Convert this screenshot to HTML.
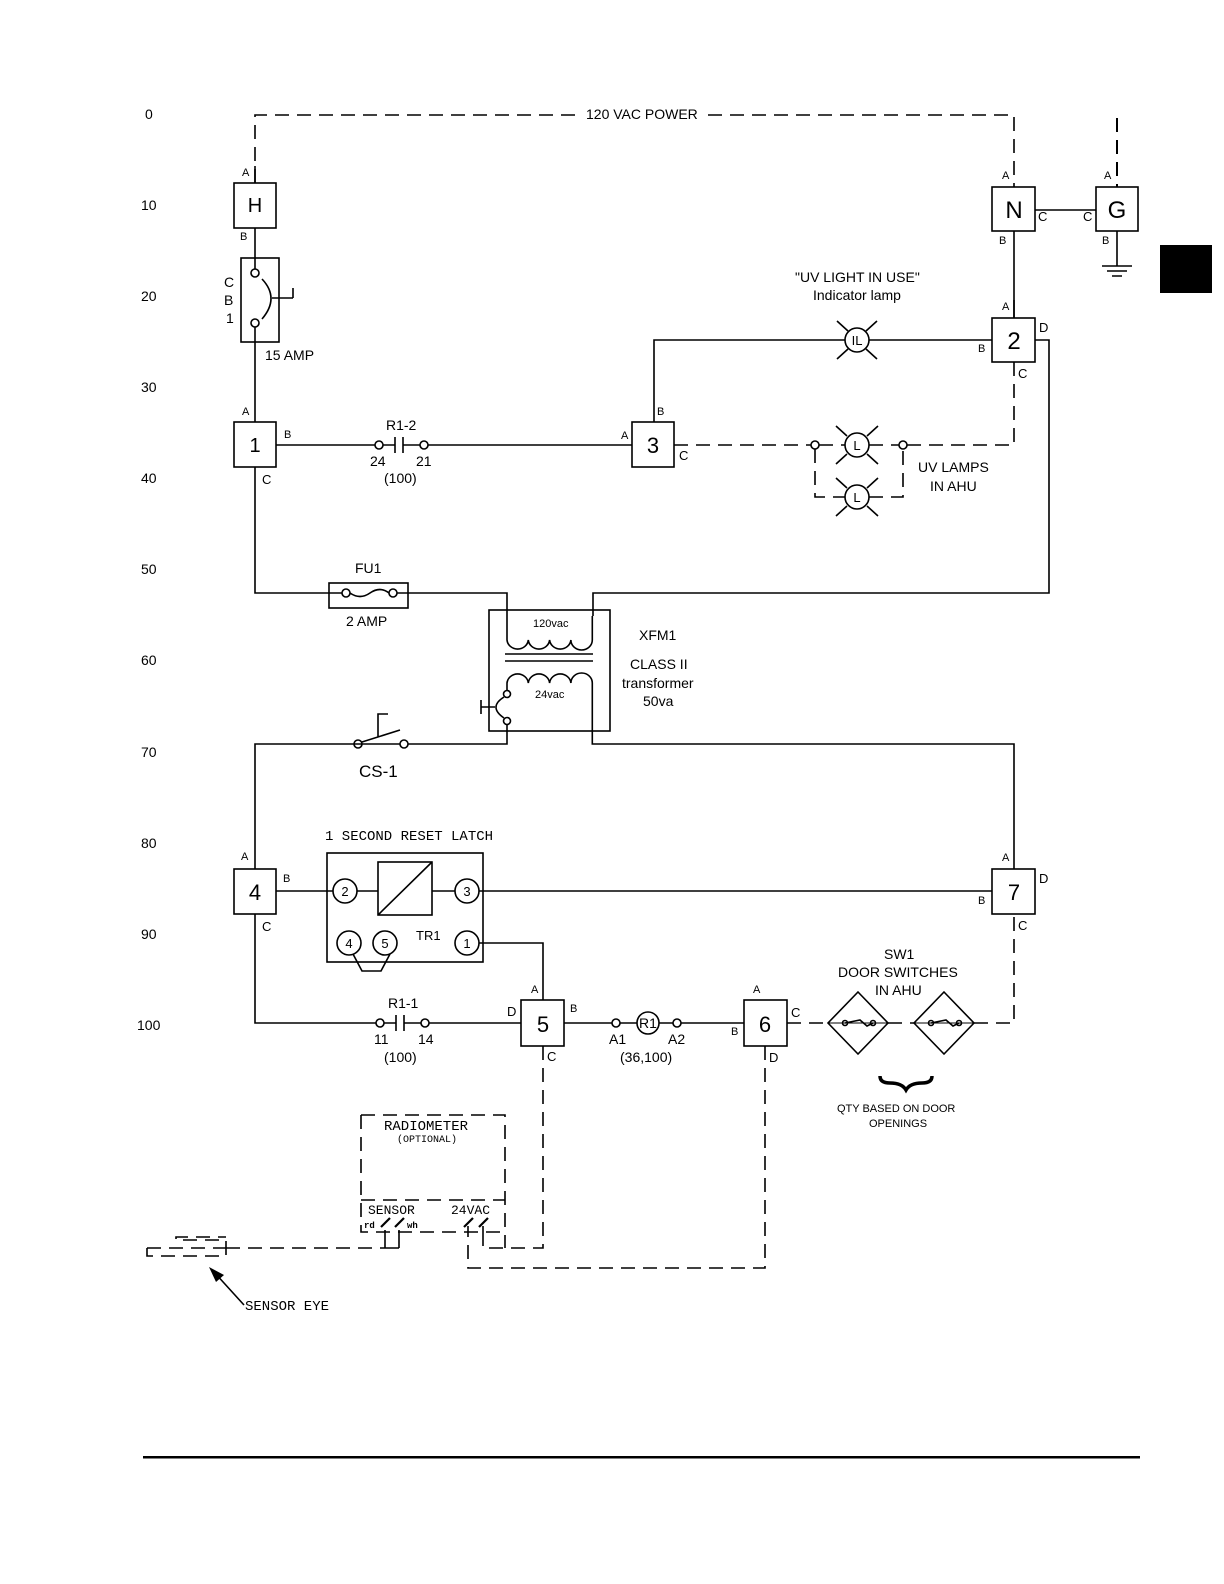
<!DOCTYPE html>
<html><head><meta charset="utf-8"><style>
html,body{margin:0;padding:0;background:#fff;overflow:hidden;width:1224px;height:1584px;}
svg{display:block;}
text{font-family:"Liberation Sans",sans-serif;fill:#000;}
.m text{font-family:"Liberation Mono",monospace;}
</style></head><body>
<svg width="1224" height="1584" viewBox="0 0 1224 1584" xmlns="http://www.w3.org/2000/svg">
<g fill="none" stroke="#000" stroke-width="1.6">
<!-- top dashed power -->
<path d="M255 183 V115 H578 M708 115 H1014 V187" stroke-dasharray="14,8"/>
<path d="M1117 118 V187" stroke-dasharray="14,8" stroke-width="2"/>
<!-- H -->
<rect x="234" y="183" width="42" height="45"/>
<path d="M255 166 V183 M255 228 V258"/>
<!-- CB1 -->
<rect x="241" y="258" width="38" height="84"/>
<path d="M255 258 V269 M255 327 V422"/>
<circle cx="255" cy="273" r="4"/><circle cx="255" cy="323" r="4"/>
<path d="M262 279 Q280 298 262 319"/>
<path d="M272 298 H293 M293 288 V298"/>
<!-- box1 -->
<rect x="234" y="422" width="42" height="45"/>
<path d="M276 445 H375 M383 445 H395 M395 437 V453 M403 437 V453 M403 445 H420 M428 445 H632"/>
<circle cx="379" cy="445" r="4"/><circle cx="424" cy="445" r="4"/>
<!-- box3 -->
<rect x="632" y="422" width="42" height="45"/>
<path d="M654 422 V340 H845 M869 340 H992"/>
<!-- IL lamp -->
<circle cx="857" cy="340" r="12"/>
<path d="M837 321 L848 331 M877 321 L866 331 M837 359 L848 349 M877 359 L866 349"/>
<!-- box2 -->
<rect x="992" y="318" width="43" height="44"/>
<path d="M1014 300 V318 M1035 340 H1049 V593 H593 V616"/>
<!-- N, G -->
<rect x="992" y="187" width="43" height="44"/>
<rect x="1096" y="187" width="42" height="44"/>
<path d="M1014 231 V318 M1035 210 H1096 M1117 231 V266 M1102 266 H1132 M1107 271 H1127 M1112 276 H1122"/>
<!-- UV lamps dashed -->
<path d="M674 445 H811 M819 445 H845 M869 445 H899 M907 445 H1014 V362" stroke-dasharray="14,8"/>
<path d="M815 449 V497 H845 M869 497 H903 V449" stroke-dasharray="14,8"/>
<circle cx="815" cy="445" r="4"/><circle cx="903" cy="445" r="4"/>
<circle cx="857" cy="445" r="12"/>
<path d="M847 436 L836 426 M867 436 L878 426 M847 454 L836 464 M867 454 L878 464"/>
<circle cx="857" cy="497" r="12"/>
<path d="M847 488 L836 478 M867 488 L878 478 M847 506 L836 516 M867 506 L878 516"/>
<!-- fuse -->
<path d="M255 467 V593 H342 M397 593 H507 V630"/>
<rect x="329" y="583" width="79" height="25"/>
<circle cx="346" cy="593" r="4"/><circle cx="393" cy="593" r="4"/>
<path d="M350 593 Q360 600 370 593 Q380 586 389 593"/>
<!-- transformer -->
<rect x="489" y="610" width="121" height="121"/>
<path d="M507 630 V640 a10.7 10 0 0 0 21.3 0 a10.7 10 0 0 0 21.3 0 a10.7 10 0 0 0 21.3 0 a10.7 10 0 0 0 21.4 0 V616"/>
<path d="M505 654 H593 M505 661 H593"/>
<path d="M507 690 V683 a10.7 10 0 0 1 21.3 0 a10.7 10 0 0 1 21.3 0 a10.7 10 0 0 1 21.3 0 a10.7 10 0 0 1 21.4 0 V744 H1014 V869"/>
<circle cx="507" cy="694" r="3.5"/><circle cx="507" cy="721" r="3.5"/>
<path d="M504 697 Q488 707 504 718 M495 707 H481 M481 700 V714"/>
<path d="M507 725 V744 H408 M400 744 H255 V869"/>
<!-- CS-1 -->
<circle cx="358" cy="744" r="4"/><circle cx="404" cy="744" r="4"/>
<path d="M362 742 L400 730 M378 737 V714 H388"/>
<!-- box4 -->
<rect x="234" y="869" width="42" height="45"/>
<!-- latch -->
<rect x="327" y="853" width="156" height="109"/>
<rect x="378" y="862" width="54" height="53"/>
<path d="M378 915 L432 862"/>
<circle cx="345" cy="891" r="12"/><circle cx="467" cy="891" r="12"/>
<circle cx="349" cy="943" r="12"/><circle cx="385" cy="943" r="12"/><circle cx="467" cy="943" r="12"/>
<path d="M276 891 H333 M357 891 H378 M432 891 H455 M479 891 H992"/>
<path d="M353 954 L362 971 H381 L390 954"/>
<path d="M479 943 H543 V1000"/>
<!-- box7 -->
<rect x="992" y="869" width="43" height="45"/>
<!-- bottom row -->
<path d="M255 914 V1023 H376 M384 1023 H396 M396 1015 V1031 M404 1015 V1031 M404 1023 H421 M429 1023 H521"/>
<circle cx="380" cy="1023" r="4"/><circle cx="425" cy="1023" r="4"/>
<rect x="521" y="1000" width="43" height="46"/>
<path d="M564 1023 H612 M620 1023 H637 M659 1023 H673 M681 1023 H744"/>
<circle cx="616" cy="1023" r="4"/><circle cx="677" cy="1023" r="4"/>
<circle cx="648" cy="1023" r="11"/>
<rect x="744" y="1000" width="43" height="46"/>
<path d="M787 1023 H828 M888 1023 H914 M974 1023 H1014 V914" stroke-dasharray="14,8"/>
<path d="M858 992 L888 1023 L858 1054 L828 1023 Z M944 992 L974 1023 L944 1054 L914 1023 Z"/>
<path d="M828 1023 H888 M914 1023 H974" stroke-width="1"/>
<path d="M845 1023 L860 1020 L867 1026 L873 1023 M931 1023 L946 1020 L953 1026 L959 1023"/>
<circle cx="845" cy="1023" r="2.5"/><circle cx="873" cy="1023" r="2.5"/>
<circle cx="931" cy="1023" r="2.5"/><circle cx="959" cy="1023" r="2.5"/>
<path d="M880 1076 Q880 1083 890 1083 Q902 1083 906 1090 Q910 1083 922 1083 Q932 1083 932 1076" stroke-width="3.5"/>
<!-- dashed bottom -->
<path d="M543 1046 V1248 H483 V1232" stroke-dasharray="14,8"/>
<path d="M765 1046 V1268 H468 V1232" stroke-dasharray="14,8"/>
<!-- radiometer -->
<path d="M361 1115 H505 V1248 M361 1115 V1232 H505 M361 1200 H505" stroke-dasharray="14,8"/>
<path d="M226 1248 H385" stroke-dasharray="14,8"/>
<path d="M385 1248 H399 M385 1248 V1230 M399 1248 V1230 M468 1232 V1226 M483 1232 V1226"/>
<path d="M147 1248 V1256 H226 V1240 H176 V1237 H226 M147 1248 H226" stroke-dasharray="14,8"/>
<path d="M381 1227 L390 1218 M395 1227 L404 1218 M464 1227 L473 1218 M479 1227 L488 1218" stroke-width="2.2"/>
<path d="M244 1305 L214 1272"/>
</g>
<polygon points="209,1267 224,1275 216,1282" fill="#000"/>
<rect x="1160" y="245" width="52" height="48" fill="#000"/>
<rect x="143" y="1456" width="997" height="2.5" fill="#000"/>
<!-- texts -->
<g font-size="14">
<text x="145" y="119">0</text><text x="141" y="210">10</text><text x="141" y="301">20</text>
<text x="141" y="392">30</text><text x="141" y="483">40</text><text x="141" y="574">50</text>
<text x="141" y="665">60</text><text x="141" y="757">70</text><text x="141" y="848">80</text>
<text x="141" y="939">90</text><text x="137" y="1030">100</text>
<text x="586" y="119">120 VAC POWER</text>
<text x="224" y="287">C</text><text x="224" y="305">B</text><text x="226" y="323">1</text>
<text x="265" y="360">15 AMP</text>
<text x="386" y="430">R1-2</text><text x="370" y="466">24</text><text x="416" y="466">21</text>
<text x="384" y="483">(100)</text>
<text x="795" y="282">"UV LIGHT IN USE"</text><text x="813" y="300">Indicator lamp</text>
<text x="918" y="472">UV LAMPS</text><text x="930" y="491">IN AHU</text>
<text x="355" y="573">FU1</text><text x="346" y="626">2 AMP</text>
<text x="639" y="640">XFM1</text><text x="630" y="669">CLASS II</text>
<text x="622" y="688">transformer</text><text x="643" y="706">50va</text>
<text x="388" y="1008">R1-1</text><text x="374" y="1044">11</text><text x="418" y="1044">14</text>
<text x="384" y="1062">(100)</text>
<text x="609" y="1044">A1</text><text x="668" y="1044">A2</text><text x="620" y="1062">(36,100)</text>
<text x="884" y="959">SW1</text><text x="838" y="977">DOOR SWITCHES</text><text x="875" y="995">IN AHU</text>
</g>
<text x="359" y="777" font-size="17">CS-1</text>
<g font-size="11">
<text x="533" y="627">120vac</text><text x="535" y="698">24vac</text>
<text x="416" y="940" font-size="13">TR1</text>
<text x="837" y="1112">QTY BASED ON DOOR</text><text x="869" y="1127">OPENINGS</text>
<text x="242" y="176">A</text><text x="240" y="240">B</text>
<text x="242" y="415">A</text><text x="284" y="438">B</text><text x="262" y="484" font-size="13">C</text>
<text x="657" y="415">B</text><text x="621" y="439">A</text><text x="679" y="460" font-size="13">C</text>
<text x="1002" y="310">A</text><text x="978" y="352">B</text><text x="1039" y="332" font-size="13">D</text><text x="1018" y="378" font-size="13">C</text>
<text x="1002" y="179">A</text><text x="999" y="244">B</text><text x="1038" y="221" font-size="13">C</text><text x="1083" y="221" font-size="13">C</text>
<text x="1104" y="179">A</text><text x="1102" y="244">B</text>
<text x="241" y="860">A</text><text x="283" y="882">B</text><text x="262" y="931" font-size="13">C</text>
<text x="1002" y="861">A</text><text x="978" y="904">B</text><text x="1039" y="883" font-size="13">D</text><text x="1018" y="930" font-size="13">C</text>
<text x="531" y="993">A</text><text x="570" y="1012">B</text><text x="507" y="1016" font-size="13">D</text><text x="547" y="1061" font-size="13">C</text>
<text x="753" y="993">A</text><text x="731" y="1035">B</text><text x="791" y="1017" font-size="13">C</text><text x="769" y="1062" font-size="13">D</text>
</g>
<g font-size="15" text-anchor="middle">
<text x="255" y="212" font-size="20">H</text>
<text x="255" y="452" font-size="20">1</text>
<text x="653" y="453" font-size="22">3</text>
<text x="1014" y="349" font-size="24">2</text>
<text x="1014" y="218" font-size="24">N</text>
<text x="1117" y="218" font-size="24">G</text>
<text x="255" y="900" font-size="22">4</text>
<text x="1014" y="900" font-size="22">7</text>
<text x="543" y="1032" font-size="22">5</text>
<text x="765" y="1032" font-size="22">6</text>
<text x="857" y="345" font-size="13">IL</text>
<text x="857" y="450" font-size="13">L</text>
<text x="857" y="502" font-size="13">L</text>
<text x="648" y="1028" font-size="14">R1</text>
<text x="345" y="896" font-size="13">2</text><text x="467" y="896" font-size="13">3</text>
<text x="349" y="948" font-size="13">4</text><text x="385" y="948" font-size="13">5</text><text x="467" y="948" font-size="13">1</text>
</g>
<g class="m">
<text x="325" y="840" font-size="14">1 SECOND RESET LATCH</text>
<text x="384" y="1130" font-size="14">RADIOMETER</text>
<text x="397" y="1142" font-size="10">(OPTIONAL)</text>
<text x="368" y="1214" font-size="13">SENSOR</text>
<text x="451" y="1214" font-size="13">24VAC</text>
<text x="364" y="1228" font-size="9" font-weight="bold">rd</text>
<text x="407" y="1228" font-size="9" font-weight="bold">wh</text>
<text x="245" y="1310" font-size="14">SENSOR EYE</text>
</g>
</svg>
</body></html>
